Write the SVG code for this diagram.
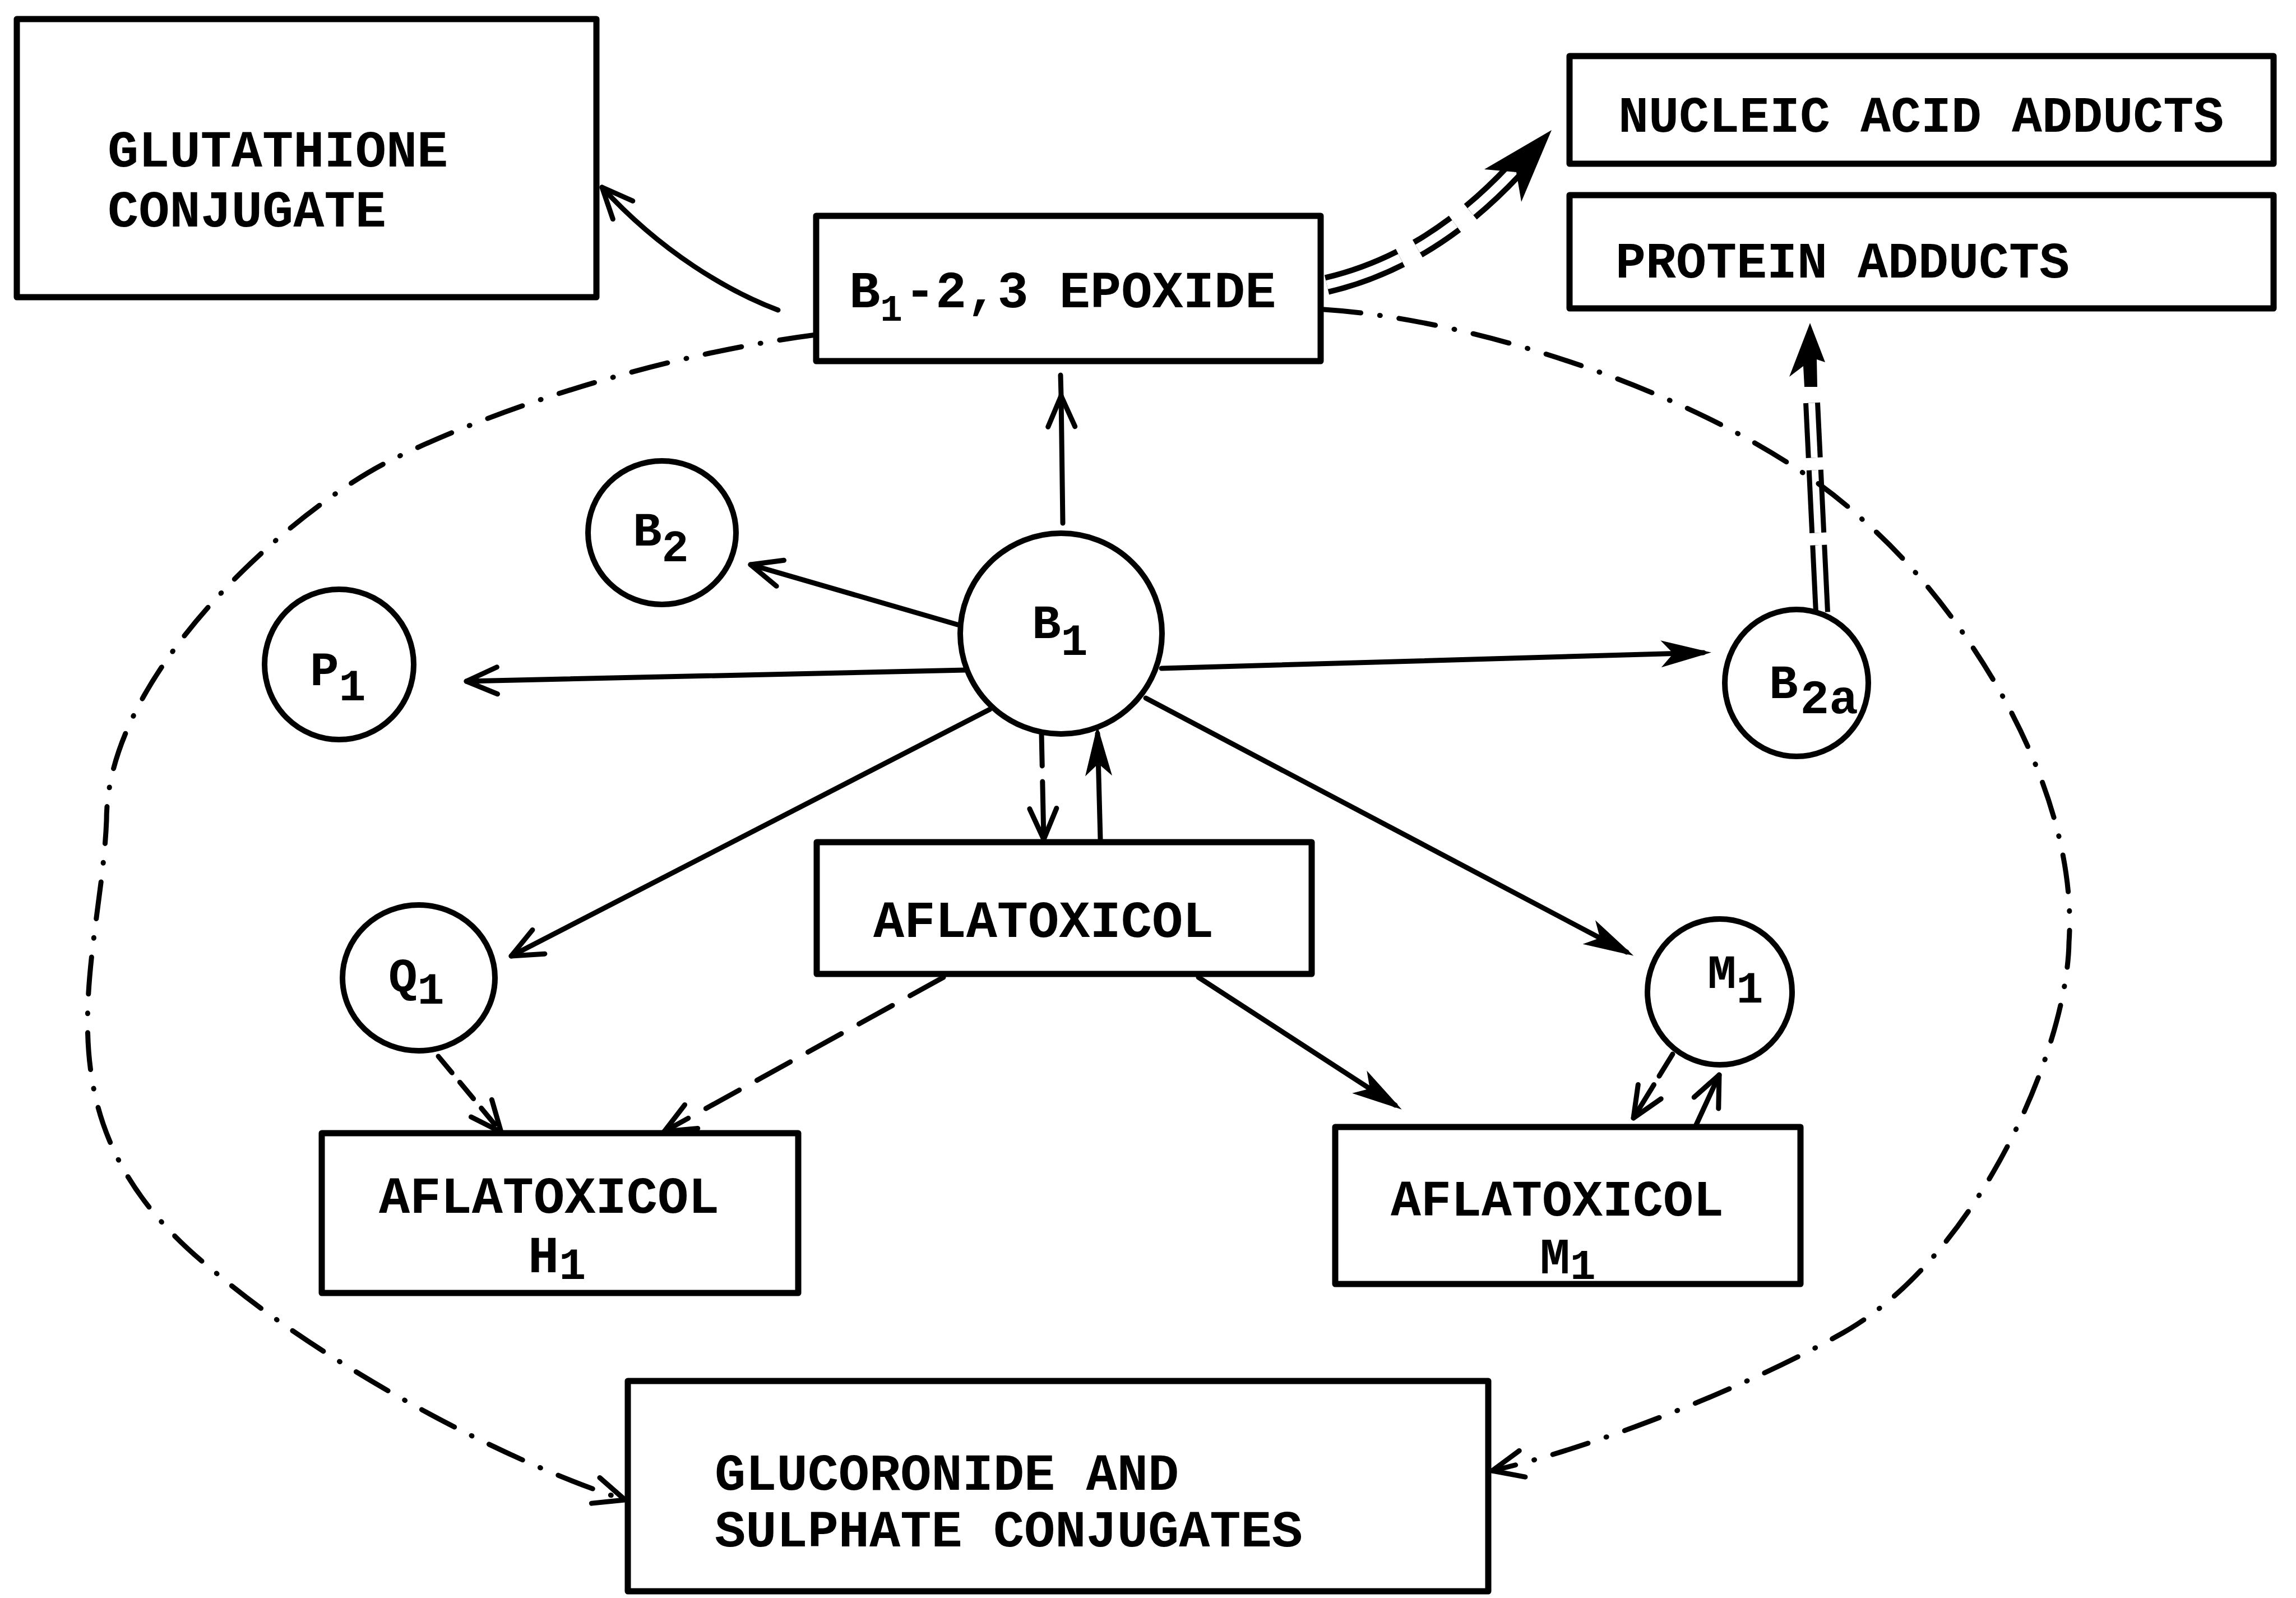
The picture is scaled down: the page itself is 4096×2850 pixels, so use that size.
<svg xmlns="http://www.w3.org/2000/svg" width="4096" height="2850" viewBox="0 0 4096 2850">
<defs>
<style>
.box{fill:none;stroke:#000;stroke-width:11;stroke-linejoin:round}
.circ{fill:none;stroke:#000;stroke-width:10}
.t{font-family:"Liberation Mono","DejaVu Sans Mono",monospace;font-weight:bold;fill:#000}
.s92{font-size:92px}
.s90{font-size:90px}
.s86{font-size:86px}
.ln{fill:none;stroke:#000;stroke-width:9;stroke-linecap:round}
.dd{fill:none;stroke:#000;stroke-width:9;stroke-linecap:round;stroke-dasharray:66 34 1 34}
.dbl-o{fill:none;stroke:#000;stroke-linecap:butt}
.dbl-i{fill:none;stroke:#fff;stroke-linecap:butt}
</style>
<marker id="open" markerUnits="userSpaceOnUse" orient="auto" refX="0" refY="0" markerWidth="10" markerHeight="10" overflow="visible">
<path d="M-55,-24 L0,0 L-55,24" fill="none" stroke="#000" stroke-width="9" stroke-linecap="round" stroke-linejoin="round"/>
</marker>
<marker id="filled" markerUnits="userSpaceOnUse" orient="auto" refX="0" refY="0" markerWidth="10" markerHeight="10" overflow="visible">
<path d="M14,0 L-76,-24 L-54,0 L-76,24 Z" fill="#000"/>
</marker>
</defs>
<rect x="0" y="0" width="4096" height="2850" fill="#fff"/>

<g id="connectors">
  <path class="dbl-o" d="M3250,1092 L3232,718" stroke-width="30" stroke-dasharray="120 22 112 22 98"/>
  <path class="dbl-i" d="M3250,1092 L3232,718" stroke-width="12" stroke-dasharray="120 22 112 22 98"/>
  <path d="M3229,576 L3256,646 L3241,641 L3242,690 L3219,690 L3217,653 L3192,672 Z" fill="#000"/>
  <path class="dbl-o" d="M2367,508 Q2550,465 2700,305" stroke-width="36" stroke-dasharray="140 35 80 35 120"/>
  <path class="dbl-i" d="M2367,508 Q2550,465 2700,305" stroke-width="16" stroke-dasharray="140 35 80 35 120"/>
  <path d="M2768,232 L2648,302 L2705,307 L2714,360 Z" fill="#000"/>

  <path class="dd" d="M1456,597 C1200,630 900,720 695,822 C520,910 190,1200 190,1463 C180,1720 50,2000 378,2264 C560,2420 880,2600 1115,2675" marker-end="url(#open)"/>
  <path class="dd" d="M2362,552 C2650,570 3100,720 3323,927 C3500,1080 3710,1400 3691,1681 C3688,1870 3530,2240 3288,2377 C3120,2472 2850,2580 2662,2623" marker-end="url(#open)"/>

  <path class="ln" d="M1388,553 C1300,520 1180,450 1074,334" marker-end="url(#open)"/>
  <path class="ln" d="M1896,933 L1893,706" marker-end="url(#open)"/>
  <path class="ln" d="M1893,706 L1892,669"/>
  <path class="ln" d="M1708,1114 L1339,1007" marker-end="url(#open)"/>
  <path class="ln" d="M1723,1195 L832,1215" marker-end="url(#open)"/>
  <path class="ln" d="M1766,1265 L912,1705" marker-end="url(#open)"/>
  <path class="ln" d="M2072,1192 L3039,1164" marker-end="url(#filled)"/>
  <path class="ln" d="M2044,1245 L2902,1698" marker-end="url(#filled)"/>
  <path class="ln" d="M1858,1308 L1862,1497" stroke-dasharray="58 28 200" stroke-linecap="butt" marker-end="url(#open)"/>
  <path class="ln" d="M1963,1497 L1958,1308" marker-end="url(#filled)"/>
  <path class="ln" d="M782,1884 L894,2019" stroke-dasharray="38 22" stroke-linecap="butt" marker-end="url(#open)"/>
  <path class="ln" d="M1683,1743 L1185,2018" stroke-dasharray="68 36" stroke-linecap="butt" marker-end="url(#open)"/>
  <path class="ln" d="M2138,1743 L2489,1971" marker-end="url(#filled)"/>
  <path class="ln" d="M2984,1880 L2914,1994" stroke-dasharray="46 18 200" stroke-linecap="butt" marker-end="url(#open)"/>
  <path class="ln" d="M3026,2006 L3067,1917" marker-end="url(#open)"/>
</g>

<g id="glutathione">
  <rect class="box" x="30" y="34" width="1034" height="496"/>
  <text class="t s92" x="192" y="297">GLUTATHIONE</text>
  <text class="t s92" x="192" y="404">CONJUGATE</text>
</g>
<g id="epoxide">
  <rect class="box" x="1456" y="385" width="900" height="259"/>
  <text class="t s92" x="1515" y="548">B<tspan font-size="66" dy="24">1</tspan><tspan dy="-24" dx="4">-2,3 EPOXIDE</tspan></text>
</g>
<g id="nucleic">
  <rect class="box" x="2800" y="100" width="1256" height="192"/>
  <text class="t s90" x="2887" y="235">NUCLEIC ACID ADDUCTS</text>
</g>
<g id="protein">
  <rect class="box" x="2800" y="348" width="1256" height="202"/>
  <text class="t s90" x="2882" y="495">PROTEIN ADDUCTS</text>
</g>
<g id="b1">
  <ellipse class="circ" cx="1893" cy="1130" rx="180" ry="179"/>
  <text class="t s86" x="1841" y="1138">B<tspan font-size="80" dy="30">1</tspan></text>
</g>
<g id="b2">
  <ellipse class="circ" cx="1181" cy="950" rx="132" ry="128"/>
  <text class="t s86" x="1129" y="973">B<tspan font-size="80" dy="28">2</tspan></text>
</g>
<g id="p1">
  <ellipse class="circ" cx="605" cy="1185" rx="133" ry="134"/>
  <text class="t s86" x="553" y="1222">P<tspan font-size="80" dy="27">1</tspan></text>
</g>
<g id="q1">
  <ellipse class="circ" cx="747" cy="1744" rx="136" ry="130"/>
  <text class="t s86" x="693" y="1768">Q<tspan font-size="80" dy="22">1</tspan></text>
</g>
<g id="b2a">
  <ellipse class="circ" cx="3205" cy="1218" rx="128" ry="131"/>
  <text class="t s86" x="3156" y="1245">B<tspan dy="27" dx="4">2a</tspan></text>
</g>
<g id="m1">
  <ellipse class="circ" cx="3068" cy="1769" rx="129" ry="130"/>
  <text class="t s86" x="3046" y="1762">M<tspan font-size="80" dy="26">1</tspan></text>
</g>
<g id="aflatoxicol">
  <rect class="box" x="1457" y="1502" width="883" height="235"/>
  <text class="t s92" x="1558" y="1671">AFLATOXICOL</text>
</g>
<g id="aflatoxicol-h1">
  <rect class="box" x="574" y="2021" width="850" height="285"/>
  <text class="t s92" x="676" y="2163">AFLATOXICOL</text>
  <text class="t s92" x="942" y="2269">H<tspan font-size="80" dy="12">1</tspan></text>
</g>
<g id="aflatoxicol-m1">
  <rect class="box" x="2382" y="2010" width="830" height="280"/>
  <text class="t s90" x="2481" y="2168">AFLATOXICOL</text>
  <text class="t s90" x="2747" y="2271">M<tspan font-size="76" dy="10">1</tspan></text>
</g>
<g id="glucoronide">
  <rect class="box" x="1120" y="2463" width="1535" height="375"/>
  <text class="t s92" x="1275" y="2657">GLUCORONIDE AND</text>
  <text class="t s92" x="1275" y="2758">SULPHATE CONJUGATES</text>
</g>
</svg>
